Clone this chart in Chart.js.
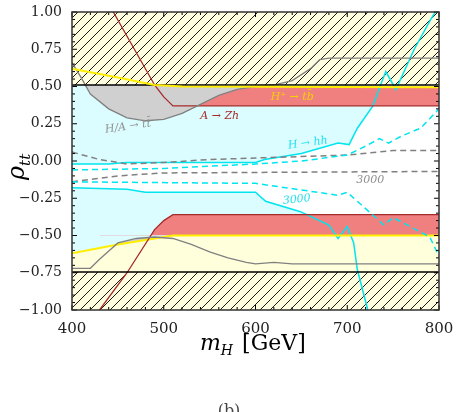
<!DOCTYPE html>
<html><head><meta charset="utf-8">
<script src="https://cdn.jsdelivr.net/npm/chart.js@4"></script>
<style>html,body{margin:0;padding:0;background:#fff}#w{width:458px;height:412px}</style>
</head><body><div id="w"><canvas id="c"></canvas></div>
<script>
const xTicks=[400,500,600,700,800];
const yTicks=[1.0,0.75,0.5,0.25,0.0,-0.25,-0.5,-0.75,-1.0];
const yTickLabels=["1.00","0.75","0.50","0.25","0.00","\u22120.25","\u22120.50","\u22120.75","\u22121.00"];
const hatchTop=[[400,0.51],[800,0.51]];
const hatchBot=[[400,-0.745],[800,-0.745]];
const yellowUp=[[400,0.62],[450,0.56],[490,0.51],[520,0.50],[800,0.495]];
const yellowLo=[[400,-0.62],[450,-0.56],[510,-0.50],[800,-0.50]];
const redUp=[[445,1.0],[490,0.51],[500,0.43],[510,0.37],[800,0.37]];
const redLo=[[430,-1.0],[460,-0.75],[490,-0.46],[500,-0.40],[510,-0.36],[800,-0.36]];
const grayUp=[[400,0.66],[410,0.56],[420,0.45],[440,0.35],[460,0.29],[480,0.27],[500,0.28],[520,0.32],[540,0.38],[560,0.44],[580,0.48],[600,0.50],[620,0.51],[640,0.54],[660,0.62],[670,0.68],[680,0.69],[800,0.69]];
const grayLo=[[400,-0.72],[420,-0.72],[430,-0.66],[450,-0.55],[470,-0.52],[490,-0.51],[510,-0.52],[530,-0.56],[550,-0.61],[570,-0.65],[590,-0.68],[600,-0.69],[620,-0.68],[640,-0.69],[800,-0.69]];
const hhUp=[[400,-0.02],[440,-0.02],[460,-0.01],[600,-0.01],[610,0.01],[650,0.05],[690,0.12],[702,0.11],[711,0.22],[728,0.37],[737,0.52],[742,0.60],[753,0.48],[773,0.75],[791,0.95],[796,1.0]];
const hhLo=[[400,-0.18],[460,-0.19],[480,-0.21],[600,-0.21],[611,-0.27],[649,-0.34],[680,-0.43],[690,-0.52],[700,-0.44],[707,-0.55],[711,-0.73],[722,-0.99],[723,-1.02]];
const hhUp3000=[[400,-0.06],[500,-0.05],[600,-0.02],[650,0.0],[700,0.04],[720,0.10],[735,0.15],[745,0.12],[760,0.17],[780,0.22],[800,0.35]];
const hhLo3000=[[400,-0.14],[600,-0.15],[690,-0.23],[700,-0.21],[740,-0.43],[750,-0.38],[790,-0.51],[800,-0.64]];
const ttUp3000=[[400,0.06],[430,0.01],[460,-0.02],[500,-0.01],[550,0.01],[600,0.02],[700,0.04],[750,0.07],[800,0.07]];
const ttLo3000=[[400,-0.14],[450,-0.10],[500,-0.08],[800,-0.07]];
const labels=[
 {t:"H\u207A \u2192 tb\u0304",x:640,y:0.43,c:"#f5d000",r:0},
 {t:"A \u2192 Zh",x:561,y:0.30,c:"#a52a2a",r:0},
 {t:"H/A \u2192 tt\u0304",x:461,y:0.23,c:"#909090",r:-8},
 {t:"H \u2192 hh",x:657,y:0.12,c:"#22e0ee",r:-8},
 {t:"3000",x:725,y:-0.13,c:"#909090",r:0},
 {t:"3000",x:645,y:-0.26,c:"#22e0ee",r:-6}
];
const P=a=>a.map(p=>({x:p[0],y:p[1]}));
function hatch(){const c=document.createElement('canvas');c.width=10;c.height=10;const g=c.getContext('2d');
g.fillStyle='#ffffe0';g.fillRect(0,0,10,10);g.strokeStyle='#000';g.lineWidth=0.9;g.beginPath();
g.moveTo(0,10);g.lineTo(10,0);g.moveTo(-5,5);g.lineTo(5,-5);g.moveTo(5,15);g.lineTo(15,5);g.stroke();
return g.createPattern(c,'repeat');}
const H=hatch();
const CY='#00e5ee',CYF='#dcfdff',YF='#ffffdc',RF='#f08080',RL='#a52a2a',GF='#d0d0d0',GL='#808080';
const ds=[
 {data:P(hhUp),borderColor:CY,borderWidth:1.5,fill:'end',backgroundColor:CYF,order:20},
 {data:P(hhLo),borderColor:CY,borderWidth:1.5,fill:'start',backgroundColor:CYF,order:20},
 {data:P(yellowLo),borderColor:'#ffee00',borderWidth:2,fill:'start',backgroundColor:YF,order:15},
 {data:P(yellowUp),borderColor:'#ffee00',borderWidth:2,fill:false,order:5},
 {data:P(redUp),borderColor:RL,borderWidth:1.3,fill:{target:{value:0.5},above:'rgba(0,0,0,0)',below:RF},order:12},
 {data:P(redLo),borderColor:RL,borderWidth:1.3,fill:{target:{value:-0.5},above:RF,below:'rgba(0,0,0,0)'},order:12},
 {data:P(grayUp),borderColor:GL,borderWidth:1.3,fill:{target:{value:0.51},above:'rgba(0,0,0,0)',below:GF},order:10},
 {data:P(grayLo),borderColor:GL,borderWidth:1.3,fill:{target:2,above:GF,below:'rgba(0,0,0,0)'},order:10},
 {data:P(hatchTop),borderColor:'#000',borderWidth:1.6,fill:'end',backgroundColor:H,order:8},
 {data:P(hatchBot),borderColor:'#000',borderWidth:1.6,fill:'start',backgroundColor:H,order:8},
 {data:P(hhUp3000),borderColor:CY,borderWidth:1.5,borderDash:[6,4],fill:false,order:1},
 {data:P(hhLo3000),borderColor:CY,borderWidth:1.5,borderDash:[6,4],fill:false,order:1},
 {data:P(ttUp3000),borderColor:GL,borderWidth:1.5,borderDash:[6,4],fill:false,order:1},
 {data:P(ttLo3000),borderColor:GL,borderWidth:1.5,borderDash:[6,4],fill:false,order:1}
];
ds.forEach(d=>{d.pointRadius=0;d.tension=0;});
const SERIF='"DejaVu Serif","Liberation Serif",serif';
const deco={id:'deco',afterDatasetsDraw(ch){
 const g=ch.ctx,a=ch.chartArea,xs=ch.scales.x,ys=ch.scales.y;
 g.save();
 labels.forEach(l=>{g.save();g.translate(xs.getPixelForValue(l.x),ys.getPixelForValue(l.y));g.rotate(l.r*Math.PI/180);
  g.font='italic 11px '+SERIF;g.fillStyle=l.c;g.textAlign='center';g.textBaseline='middle';g.fillText(l.t,0,0);g.restore();});
 g.strokeStyle='#000';g.lineWidth=1;g.beginPath();
 for(let v=400;v<=800;v+=20){const p=xs.getPixelForValue(v),L=(v%100===0)?5:3;g.moveTo(p,a.bottom);g.lineTo(p,a.bottom-L);g.moveTo(p,a.top);g.lineTo(p,a.top+L);}
 for(let i=0;i<=40;i++){const v=-1+i*0.05,p=ys.getPixelForValue(v),L=(i%5===0)?5:3;g.moveTo(a.left,p);g.lineTo(a.left+L,p);g.moveTo(a.right,p);g.lineTo(a.right-L,p);}
 g.stroke();
 g.lineWidth=1.5;g.strokeStyle='#333';g.strokeRect(a.left,a.top,a.right-a.left,a.bottom-a.top);
 g.fillStyle='#000';g.textBaseline='alphabetic';
 g.font='italic 22px '+SERIF;g.textAlign='left';
 let x0=200,yb=350;g.fillText('m',x0,yb);let w=g.measureText('m').width;
 g.font='italic 14px '+SERIF;g.fillText('H',x0+w,yb+5);let w2=g.measureText('H').width;
 g.font='22px '+SERIF;g.fillText('[GeV]',x0+w+w2+9,yb);
 g.save();g.translate(24,180);g.rotate(-Math.PI/2);
 g.font='italic 24px '+SERIF;g.fillText('\u03C1',0,0);let wr=g.measureText('\u03C1').width;
 g.font='italic 15px '+SERIF;g.fillText('tt',wr,6);g.restore();
 g.font='16px '+SERIF;g.textAlign='center';g.textBaseline='top';g.fillStyle='#444';g.fillText('(b)',229,404);
 g.restore();}};
new Chart(document.getElementById('c'),{type:'line',data:{datasets:ds},plugins:[deco],
options:{responsive:true,maintainAspectRatio:false,animation:false,
 layout:{padding:{left:0,right:19,top:12,bottom:0}},
 plugins:{legend:{display:false},tooltip:{enabled:false},filler:{drawTime:'beforeDatasetsDraw'}},
 scales:{
  x:{type:'linear',min:400,max:800,afterBuildTicks:s=>{s.ticks=xTicks.map(v=>({value:v}));},
   grid:{display:false},border:{display:false},
   ticks:{color:'#222',font:{family:SERIF,size:15},padding:2,maxRotation:0,callback:v=>String(v)},
   afterFit:s=>{s.height=102;}},
  y:{type:'linear',min:-1,max:1,afterBuildTicks:s=>{s.ticks=yTicks.map(v=>({value:v}));},
   grid:{display:false},border:{display:false},
   ticks:{color:'#222',font:{family:SERIF,size:14},padding:2,callback:v=>{const i=yTicks.findIndex(t=>Math.abs(t-v)<1e-9);return i>=0?yTickLabels[i]:'';}},
   afterFit:s=>{s.width=72;}}
 }}});
</script></body></html>
